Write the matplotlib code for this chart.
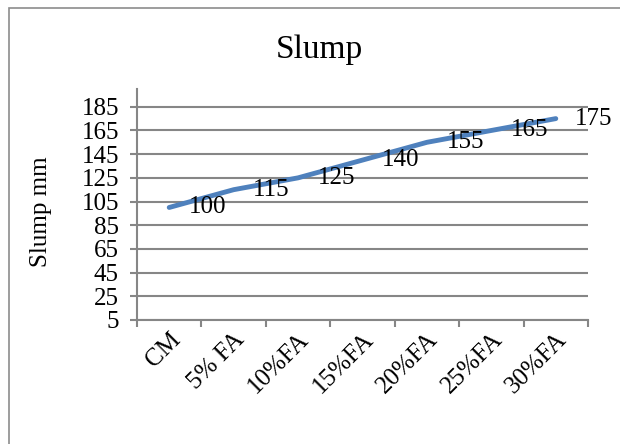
import matplotlib.pyplot as plt
from matplotlib.patches import Rectangle

categories = ["CM", "5% FA", "10%FA", "15%FA", "20%FA", "25%FA", "30%FA"]
slump = [100, 115, 125, 140, 155, 165, 175]
y_ticks = [5, 25, 45, 65, 85, 105, 125, 145, 165, 185]

plt.rcParams['font.family'] = ['Liberation Serif', 'DejaVu Serif']
grey = "#868686"

fig = plt.figure(figsize=(6.2, 4.44), dpi=100)
fig.patches.append(Rectangle((9 / 620, -0.05), 1.2, 1.05 - 8 / 444, transform=fig.transFigure,
                             fill=False, edgecolor="#8c8c8c", linewidth=1.2))
ax = fig.add_axes([137 / 620, 1 - 320 / 444, (588 - 137) / 620, (320 - 89) / 444])

x = list(range(len(categories)))
ax.plot(x, slump, color="#4F81BD", linewidth=3.5, solid_capstyle="round", zorder=3)
for xi, v in zip(x, slump):
    ax.annotate(str(v), (xi, v), xytext=(14, 0), textcoords="offset points",
                ha="left", va="center", fontsize=18)

ax.set_xlim(-0.5, len(categories) - 0.5)
ax.set_ylim(5, 200)
ax.set_yticks(y_ticks)
ax.set_yticklabels([str(t) for t in y_ticks], fontsize=18)
ax.yaxis.grid(True, color=grey, linewidth=1.5)
ax.set_axisbelow(True)

ax.set_xticks([i - 0.5 for i in range(len(categories) + 1)])
ax.set_xticklabels([])
ax.set_xticks(x, minor=True)
ax.set_xticklabels(categories, minor=True, rotation=45, ha="right",
                   rotation_mode="anchor", fontsize=18)
ax.tick_params(axis="x", which="minor", length=0, pad=6)
ax.tick_params(axis="x", which="major", length=5, width=1.5, color=grey)
ax.tick_params(axis="y", length=5, width=1.5, color=grey, pad=8)

for s in ["top", "right"]:
    ax.spines[s].set_visible(False)
for s in ["left", "bottom"]:
    ax.spines[s].set_color(grey)
    ax.spines[s].set_linewidth(1.5)

fig.text(41 / 620, 1 - 212 / 444, "Slump mm", rotation=90, ha="center", va="center", fontsize=18)
fig.text(0.515, 1 - 50 / 444, "Slump", ha="center", va="center", fontsize=24)

fig.savefig("out.png", dpi=100)
